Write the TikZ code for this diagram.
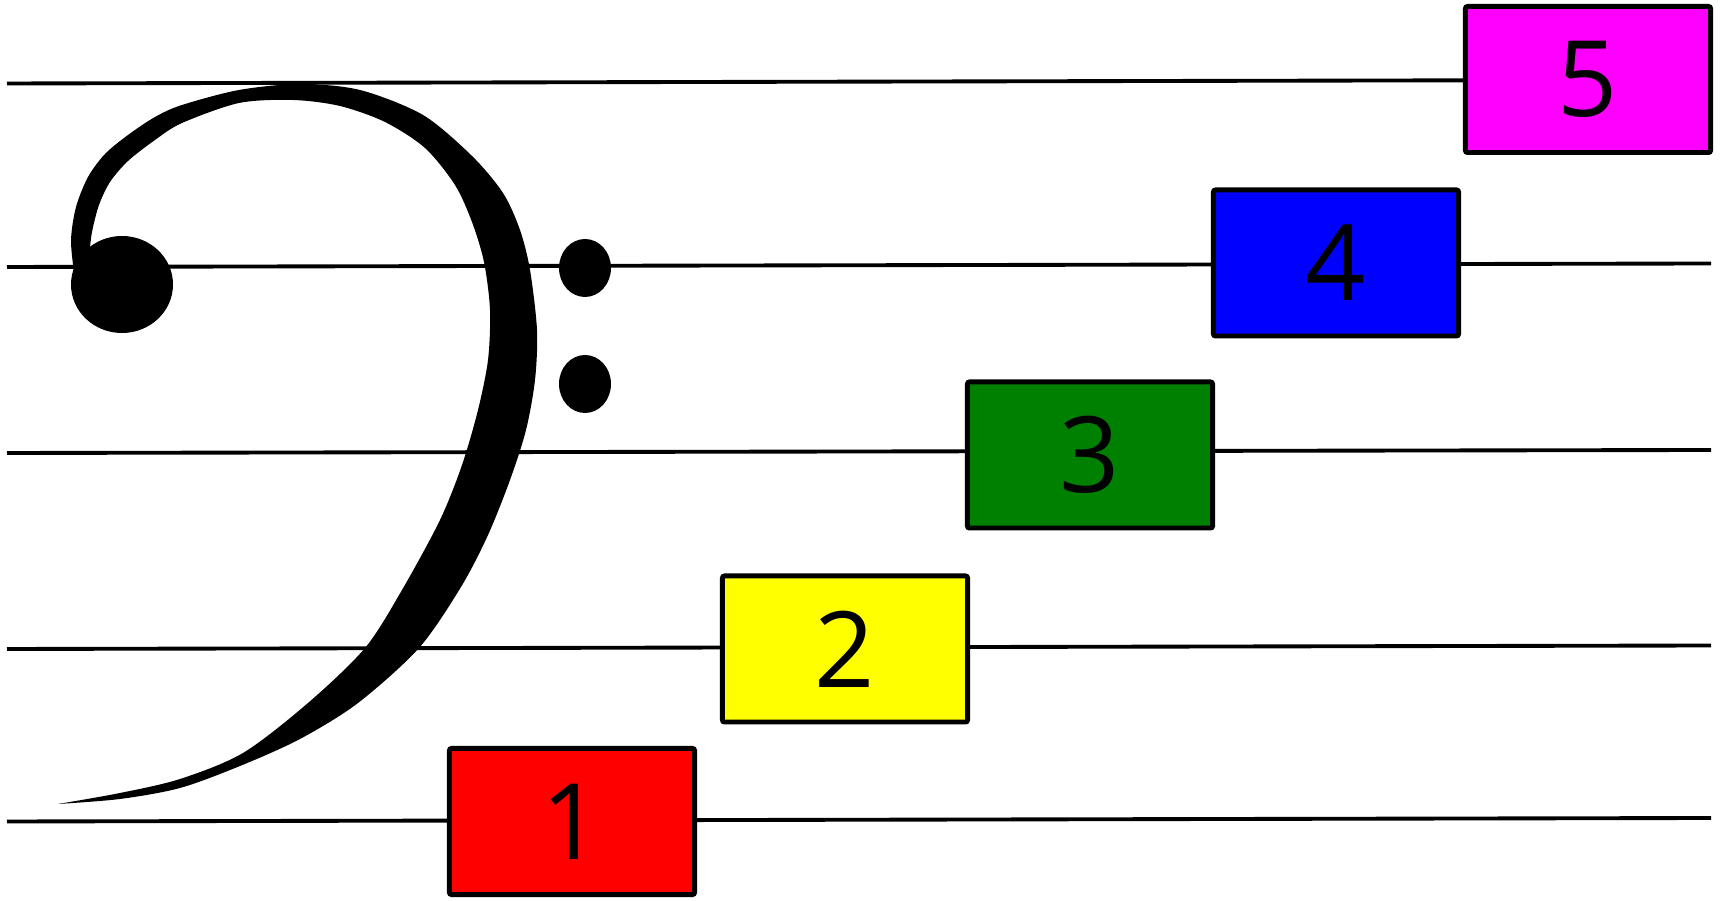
\documentclass[tikz,border=0pt]{standalone}
\usepackage{fontspec}
\setmainfont{Open Sans}
\definecolor{keyred}{RGB}{255,0,0}
\definecolor{keyyellow}{RGB}{255,255,0}
\definecolor{keygreen}{RGB}{0,128,0}
\definecolor{keyblue}{RGB}{0,0,255}
\definecolor{keymagenta}{RGB}{255,0,255}

\begin{document}
\begin{tikzpicture}[x=0.01cm,y=-0.01cm,
  staff/.style={line width=1.1pt},
  key/.style={draw,line width=1.4pt,rounded corners=0.6pt,minimum width=2.45cm,minimum height=1.46cm,inner sep=0pt,font=\fontsize{30}{30}\selectfont}]
  \useasboundingbox (0,0) rectangle (1721,901);
  \coordinate (line1w) at (7,83.5);  \coordinate (line1e) at (1711,79.8);
  \coordinate (line2w) at (7,267);   \coordinate (line2e) at (1711,263.5);
  \coordinate (line3w) at (7,453);   \coordinate (line3e) at (1711,450);
  \coordinate (line4w) at (7,649);   \coordinate (line4e) at (1711,645.5);
  \coordinate (line5w) at (7,821.5); \coordinate (line5e) at (1711,818);
  \draw[staff] (line1w) -- (line1e);
  \draw[staff] (line2w) -- (line2e);
  \draw[staff] (line3w) -- (line3e);
  \draw[staff] (line4w) -- (line4e);
  \draw[staff] (line5w) -- (line5e);
  \fill plot[smooth] coordinates {(74,272) (71,240) (76,207) (88,177) (105,154) (128,135) (155,117) (182,105) (239,90) (300,84) (360,90) (423,115) (472,156) (503,193) (520,230) (530,270) (537,330) (535,380) (526,430) (510,480) (488,535) (461,587) (419,648) (358,703) (300,739) (240,766) (180,788) (120,799) (58,804)}
    -- plot[smooth] coordinates {(58,804) (120,793) (180,779) (243,753) (308,703) (365,648) (402,590) (440,520) (462,465) (478,410) (488,360) (490,310) (484,262) (472,222) (455,185) (425,148) (385,122) (340,106) (293,100) (239,103) (182,123) (155,140) (128,161) (110,182) (99,205) (92,232) (89,257)} -- cycle;
  \fill (122,284.5) ellipse [x radius=51, y radius=48.5];
  \fill (585,268) ellipse [x radius=26, y radius=29];
  \fill (585,384) ellipse [x radius=26, y radius=29];
  \node[key,fill=keyred] (key1) at (572,821.5) {1};
  \node[key,fill=keyyellow] (key2) at (845,649) {2};
  \node[key,fill=keygreen] (key3) at (1090,455) {3};
  \node[key,fill=keyblue] (key4) at (1336,263) {4};
  \node[key,fill=keymagenta] (key5) at (1588,79.5) {5};
\end{tikzpicture}
\end{document}
